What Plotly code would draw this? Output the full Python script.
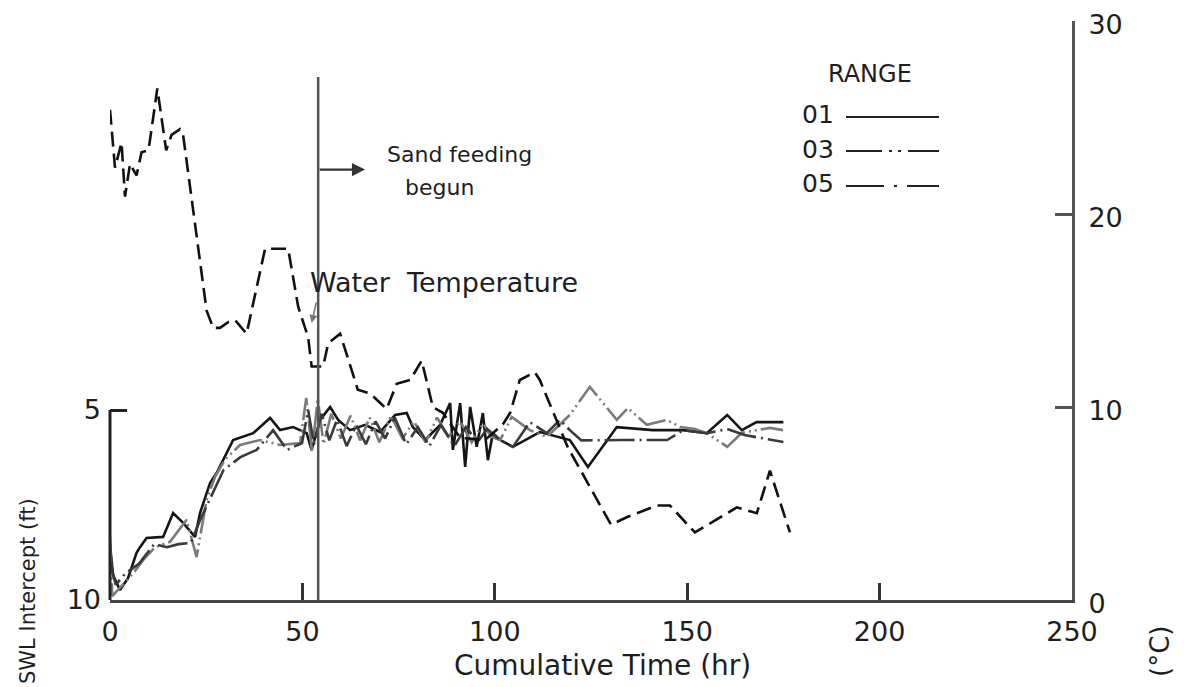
import plotly.graph_objects as go

# ---------------- data ----------------
# Water temperature (deg C, right axis) vs cumulative time (hr)
temp_hours = [0.0, 1.3, 3.0, 3.9, 5.2, 6.9, 8.2, 10.0, 10.8, 12.3, 14.6, 16.0, 18.2, 19.0,
              25.1, 26.8, 28.6, 30.7, 32.5, 34.2, 35.5, 40.3, 46.3, 48.9, 51.5, 52.4, 55.4,
              56.7, 59.8, 64.4, 67.6, 71.9, 74.5, 78.0, 81.0, 83.9, 86.5, 91.0, 97.5, 102.1,
              104.0, 106.5, 110.4, 111.7, 119.0, 130.2, 134.4, 142.2, 145.5, 152.0, 162.9,
              168.1, 171.5, 176.7]
temp_c = [25.4, 22.4, 23.7, 20.9, 22.6, 22.0, 23.2, 23.3, 24.4, 26.5, 23.3, 24.1, 24.4, 24.1,
          15.0, 14.1, 14.1, 14.4, 14.5, 14.1, 13.8, 18.2, 18.2, 15.2, 13.6, 12.1, 12.1,
          13.3, 13.8, 10.9, 10.7, 9.9, 11.2, 11.4, 12.4, 10.0, 9.7, 8.4, 8.3, 9.1,
          9.7, 11.4, 11.8, 11.4, 7.9, 3.9, 4.3, 4.9, 4.9, 3.5, 4.8,
          4.5, 6.7, 3.5]

# SWL intercept (ft, left axis, reversed) for ranges 01, 03, 05
hours_01 = [0.0, 0.8, 2.6, 4.7, 6.9, 7.8, 9.5, 13.8, 16.4, 19.0, 22.1, 23.4, 26.0, 27.7, 32.0,
            37.2, 41.6, 44.2, 47.6, 51.1, 52.4, 54.6, 57.2, 59.3, 62.4, 66.3, 70.2, 74.1, 77.1,
            78.7, 81.9, 85.8, 88.4, 89.1, 91.0, 92.3, 93.6, 95.3, 96.9, 98.2, 99.5, 101.4,
            104.7, 111.7, 119.5, 124.2, 131.7, 141.1, 148.9, 155.1, 160.4, 164.2, 168.0, 175.0]
swl_01 = [8.55, 9.34, 9.74, 9.42, 8.76, 8.61, 8.37, 8.34, 7.71, 7.97, 8.34, 7.71, 6.92, 6.66, 5.79,
          5.61, 5.21, 5.53, 5.45, 5.61, 6.05, 5.26, 4.92, 5.26, 5.53, 5.39, 5.58, 5.13, 5.08,
          5.45, 5.79, 5.39, 4.82, 6.05, 4.82, 6.50, 4.92, 5.97, 5.08, 6.32, 5.61, 5.79,
          5.97, 5.58, 5.79, 6.50, 5.45, 5.53, 5.53, 5.61, 5.13, 5.53, 5.32, 5.32]

hours_03 = [0.0, 0.6, 3.9, 6.0, 8.6, 11.7, 15.6, 19.9, 22.5, 25.1, 27.3, 29.9, 33.8, 39.0, 44.2,
            49.4, 51.0, 52.5, 54.0, 55.5, 57.5, 60.0, 62.5, 65.0, 67.5, 70.0, 73.0, 76.0, 79.0,
            82.0, 85.0, 88.0, 91.0, 94.0, 97.0, 99.0, 101.4, 104.4, 109.1, 113.5, 119.5, 124.7,
            131.7, 134.6, 139.5, 144.7, 148.2, 152.0, 155.1, 160.4, 164.2, 171.5, 174.9]
swl_03 = [8.35, 9.90, 9.53, 9.30, 8.95, 8.61, 8.47, 7.89, 8.87, 7.37, 6.76, 6.30, 5.92, 5.79, 5.92,
          5.87, 4.68, 6.10, 4.70, 5.90, 5.10, 5.75, 5.15, 5.80, 5.20, 5.85, 5.15, 5.75, 5.30,
          5.85, 5.20, 5.70, 5.30, 5.85, 5.35, 5.70, 5.79, 5.18, 5.53, 5.71, 5.13, 4.39,
          5.26, 4.95, 5.39, 5.26, 5.45, 5.50, 5.61, 5.97, 5.60, 5.47, 5.53]

hours_05 = [0.0, 1.5, 4.0, 7.5, 11.5, 14.8, 17.8, 21.0, 23.4, 29.5, 33.9, 38.1, 42.4, 46.0, 49.9,
            51.5, 53.0, 55.0, 57.0, 59.0, 61.5, 64.0, 66.5, 69.0, 71.5, 74.0, 77.0, 80.0, 83.0,
            86.0, 89.5, 92.5, 95.5, 98.0, 101.4, 104.7, 109.1, 113.5, 116.9, 119.5, 122.5,
            127.0, 133.0, 138.0, 144.8, 149.0, 155.1, 160.4, 164.9, 175.0]
swl_05 = [9.00, 9.60, 9.30, 9.05, 8.53, 8.61, 8.53, 8.50, 7.90, 6.58, 6.24, 6.05, 5.53, 6.05, 5.87,
          5.00, 5.90, 5.10, 5.80, 5.25, 5.95, 5.40, 5.90, 5.30, 5.75, 5.20, 5.90, 5.45, 5.95,
          5.40, 5.95, 5.45, 5.85, 5.50, 5.79, 5.97, 5.32, 5.61, 5.26, 5.53, 5.80,
          5.79, 5.79, 5.79, 5.79, 5.53, 5.61, 5.50, 5.66, 5.84]

range_names = ["01", "03", "05"]
x_ticks = [0, 50, 100, 150, 200, 250]
left_ticks = [5, 10]
right_ticks = [0, 10, 20, 30]
sand_feed_hr = 54.1

# ---------------- layout helpers ----------------
OFF = 8                      # default page body margin of the html page
W, H = 1176, 679
ML, MR, MT, MB = 102, 112, 13, 87
PW, PH = W - ML - MR, H - MT - MB
FT_PER_PX = 5.0 / 190.0


def px(x):  # page pixel -> paper x
    return (x - OFF - ML) / PW


def py(y):  # page pixel -> paper y
    return (H - MB - (y - OFF)) / PH


FONT = "DejaVu Sans"
INK = "#1e1e1e"

fig = go.Figure()

styles = {
    "01": dict(color="#151515", dash="solid"),
    "03": dict(color="#7a7a7a", dash="30px,4px,2px,4px,2px,4px"),
    "05": dict(color="#3a3a3a", dash="30px,5px,2px,5px"),
}
for name, hh, vv in zip(range_names, [hours_01, hours_03, hours_05], [swl_01, swl_03, swl_05]):
    st = styles[name]
    fig.add_trace(go.Scatter(x=hh, y=vv, yaxis="y", mode="lines", name=name,
                             line=dict(color=st["color"], width=2.6, dash=st["dash"])))

fig.add_trace(go.Scatter(x=temp_hours, y=temp_c, yaxis="y2", mode="lines",
                         name="Water Temperature",
                         line=dict(color="#111111", width=2.6, dash="15px,7px")))

tickfont = dict(family=FONT, size=27, color=INK)

fig.update_layout(
    width=W, height=H,
    margin=dict(l=ML, r=MR, t=MT, b=MB, pad=0, autoexpand=False),
    paper_bgcolor="white", plot_bgcolor="white",
    showlegend=False,
    xaxis=dict(range=[0, 250], tickvals=x_ticks, ticks="inside", ticklen=17, tickwidth=2.5,
               tickcolor="#333", showline=True, linecolor="#444", linewidth=3,
               showgrid=False, zeroline=False, tickfont=tickfont, ticklabelstandoff=6,
               automargin=False),
    yaxis=dict(range=[10, 10 - PH * FT_PER_PX], tickvals=left_ticks, ticks="inside",
               ticklen=17, tickwidth=2.5, tickcolor="#222", showline=False,
               showgrid=False, zeroline=False, tickfont=tickfont, ticklabelstandoff=8,
               automargin=False),
    yaxis2=dict(range=[0, 30], overlaying="y", side="right", tickvals=right_ticks,
                ticks="inside", ticklen=17, tickwidth=2.5, tickcolor="#555", showline=True,
                linecolor="#555", linewidth=3, showgrid=False, zeroline=False,
                tickfont=tickfont, ticklabelstandoff=8, ticklabelshift=4,
                ticklabeloverflow="allow", automargin=False),
)

# left axis spine only between 10 and 5 ft
fig.add_shape(type="line", xref="paper", yref="y", x0=0, x1=0, y0=10, y1=5,
              line=dict(color="#222", width=3))

# sand feeding marker
fig.add_shape(type="line", xref="x", yref="y2", x0=sand_feed_hr, x1=sand_feed_hr, y0=0, y1=27.1,
              line=dict(color="#555", width=2.5))
fig.add_annotation(xref="x", yref="y2", x=66.3, y=22.3, axref="x", ayref="y2",
                   ax=sand_feed_hr, ay=22.3, text="", showarrow=True, arrowhead=2,
                   arrowsize=1.2, arrowwidth=2.2, arrowcolor="#333")
fig.add_annotation(xref="paper", yref="paper", x=px(385), y=py(155), xanchor="left",
                   yanchor="middle", text="Sand feeding", showarrow=False,
                   font=dict(family=FONT, size=22, color=INK))
fig.add_annotation(xref="paper", yref="paper", x=px(403), y=py(188), xanchor="left",
                   yanchor="middle", text="begun", showarrow=False,
                   font=dict(family=FONT, size=22, color=INK))

# water temperature label + pointer
fig.add_annotation(xref="paper", yref="paper", x=px(308), y=py(282), xanchor="left",
                   yanchor="middle", text="Water\u00a0\u00a0Temperature", showarrow=False,
                   font=dict(family=FONT, size=27, color=INK))
fig.add_annotation(xref="x", yref="y2", x=52.4, y=14.35, axref="x", ayref="y2",
                   ax=53.7, ay=15.5, text="", showarrow=True, arrowhead=2, arrowsize=1,
                   arrowwidth=1.6, arrowcolor="#777")

# axis titles
fig.add_annotation(xref="paper", yref="paper", x=px(602), y=py(665), xanchor="center",
                   yanchor="middle", text="Cumulative Time (hr)", showarrow=False,
                   font=dict(family=FONT, size=28, color=INK))
fig.add_annotation(xref="paper", yref="paper", x=px(28), y=py(591), xanchor="center",
                   yanchor="middle", text="SWL Intercept (ft)", textangle=-90, showarrow=False,
                   font=dict(family=FONT, size=21, color=INK))
fig.add_annotation(xref="paper", yref="paper", x=px(1160), y=py(652), xanchor="center",
                   yanchor="middle", text="(°C)", textangle=-90, showarrow=False,
                   font=dict(family=FONT, size=26, color=INK))

# legend drawn as text + line samples
fig.add_annotation(xref="paper", yref="paper", x=px(870), y=py(74), xanchor="center",
                   yanchor="middle", text="RANGE", showarrow=False,
                   font=dict(family=FONT, size=24, color=INK))
legend_y = [117, 151, 186]
legend_dash = ["solid", "36px,7px,3px,6px,3px,7px", "38px,10px,3px,10px"]
for name, ly, dsh in zip(range_names, legend_y, legend_dash):
    fig.add_annotation(xref="paper", yref="paper", x=px(800), y=py(ly - 2), xanchor="left",
                       yanchor="middle", text=name, showarrow=False,
                       font=dict(family=FONT, size=25, color=INK))
    fig.add_shape(type="line", xref="paper", yref="paper", x0=px(846), x1=px(939),
                  y0=py(ly), y1=py(ly), line=dict(color="#222", width=2.2, dash=dsh))

fig.write_html("out.html")
